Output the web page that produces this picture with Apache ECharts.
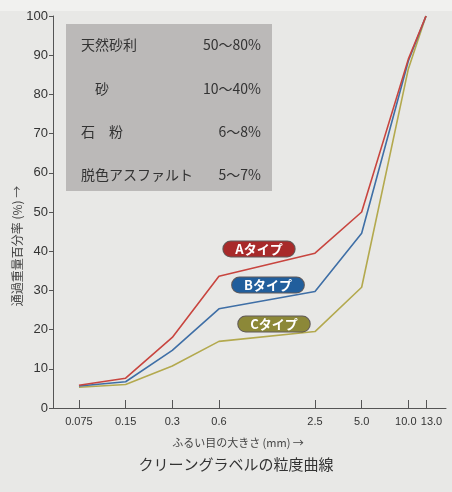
<!DOCTYPE html>
<html>
<head>
<meta charset="utf-8">
<script src="https://cdn.jsdelivr.net/npm/echarts@6/dist/echarts.min.js"></script>
<style>
html,body{margin:0;padding:0;background:#e8e8e6;}
#c{width:452px;height:492px;}
</style>
</head>
<body>
<div id="c"></div>
<script>
// sieve sizes (mm) and tick labels
const sieveSizes = [0.075, 0.15, 0.3, 0.6, 2.5, 5.0, 10.0, 13.0];
const sieveLabels = ['0.075', '0.15', '0.3', '0.6', '2.5', '5.0', '10.0', '13.0'];
const yTicks = [0, 10, 20, 30, 40, 50, 60, 70, 80, 90, 100];
// percent passing
const typeA = [5.8, 7.6, 18.0, 33.6, 39.5, 50.0, 89.0, 100];
const typeB = [5.6, 6.7, 14.7, 25.3, 29.7, 44.6, 88.5, 100];
const typeC = [5.3, 6.0, 10.7, 17.0, 19.5, 30.8, 86.5, 100];
const seriesNames = ['Aタイプ', 'Bタイプ', 'Cタイプ'];
const legendRows = [
  ['天然砂利', '50〜80%'],
  ['　砂', '10〜40%'],
  ['石　粉', '6〜8%'],
  ['脱色アスファルト', '5〜7%']
];
const xAxisTitle = 'ふるい目の大きさ (mm) →';
const yAxisTitle = '通過重量百分率 (%) →';
const chartTitle = 'クリーングラベルの粒度曲線';

const FONT = '"Noto Sans CJK JP", "Noto Sans", sans-serif';
const NUMFONT = '"Liberation Sans", "Noto Sans", sans-serif';
const chart = echarts.init(document.getElementById('c'));
const toPairs = arr => sieveSizes.map((s, i) => [s, arr[i]]);
const colors = ['#c8453f', '#3f6fa6', '#b3a94e'];
const pillColors = ['#a82a2a', '#215e9c', '#8c8838'];

const graphics = [
  {type: 'rect', shape: {x: 0, y: 0, width: 452, height: 11}, style: {fill: '#f1f1ef'}, z: 0},
  {type: 'rect', shape: {x: 66, y: 24, width: 206, height: 167}, style: {fill: '#bbb9b8'}, z: 1},
];
const rowY = [45, 89, 132, 175];
legendRows.forEach((r, i) => {
  graphics.push({type: 'text', x: 81, y: rowY[i], z: 2,
    style: {text: r[0], font: '14px ' + FONT, fill: '#333', verticalAlign: 'middle', align: 'left'}});
  graphics.push({type: 'text', x: 261, y: rowY[i], z: 2,
    style: {text: r[1], font: '14px ' + FONT, fill: '#333', verticalAlign: 'middle', align: 'right'}});
});
const pillPos = [[259, 249], [268, 285], [274, 324]];
seriesNames.forEach((n, i) => {
  graphics.push({type: 'text', x: pillPos[i][0], y: pillPos[i][1], z: 5,
    style: {text: n, font: 'bold 13px ' + FONT, fill: '#fff', align: 'center', verticalAlign: 'middle',
      backgroundColor: pillColors[i], borderRadius: 9, padding: [1, 12, 1, 12],
      borderColor: 'rgba(40,30,30,0.7)', borderWidth: 1}});
});
graphics.push({type: 'text', x: 17, y: 246, rotation: Math.PI / 2, z: 2,
  style: {text: yAxisTitle, font: '12px ' + FONT, fill: '#444', align: 'center', verticalAlign: 'middle'}});
graphics.push({type: 'text', x: 238, y: 443, z: 2,
  style: {text: xAxisTitle, font: '11px ' + FONT, fill: '#444', align: 'center', verticalAlign: 'middle'}});
graphics.push({type: 'text', x: 236, y: 464, z: 2,
  style: {text: chartTitle, font: '15px ' + FONT, fill: '#333', align: 'center', verticalAlign: 'middle'}});

const labelFor = v => {
  for (let i = 0; i < sieveSizes.length; i++) {
    if (Math.abs(sieveSizes[i] - v) < 1e-6 * Math.max(1, v)) {
      if (i === sieveSizes.length - 1) return '{r|' + sieveLabels[i] + '}';
      if (i === sieveSizes.length - 2) return '{l|' + sieveLabels[i] + '}';
      return sieveLabels[i];
    }
  }
  return '';
};

chart.setOption({
  backgroundColor: '#e8e8e6',
  animation: false,
  grid: {left: 53, right: 6, top: 16, bottom: 84, outerBoundsMode: 'none'},
  xAxis: {
    type: 'log', logBase: 10, min: 0.051, max: 17.5,
    axisLine: {lineStyle: {color: '#555', width: 1}},
    axisTick: {show: true, inside: true, length: 8, customValues: sieveSizes, lineStyle: {color: '#555'}},
    axisLabel: {customValues: sieveSizes, formatter: v => labelFor(v), color: '#333', fontSize: 11,
      fontFamily: NUMFONT, margin: 8, hideOverlap: false, showMinLabel: true, showMaxLabel: true,
      rich: {
        r: {fontSize: 11, fontFamily: NUMFONT, color: '#333', padding: [0, 0, 0, 11]},
        l: {fontSize: 11, fontFamily: NUMFONT, color: '#333', padding: [0, 5, 0, 0]}
      }},
    splitLine: {show: false},
    minorTick: {show: false}
  },
  yAxis: {
    type: 'value', min: 0, max: 100, interval: 10,
    axisLine: {show: true, lineStyle: {color: '#555', width: 1}},
    axisTick: {show: true, inside: false, length: 4, lineStyle: {color: '#555'}},
    axisLabel: {color: '#333', fontSize: 13, fontFamily: NUMFONT, margin: 5,
      formatter: v => yTicks.includes(v) ? String(v) : ''},
    splitLine: {show: false}
  },
  series: [typeC, typeB, typeA].map((d, k) => {
    const i = 2 - k;
    return {type: 'line', name: seriesNames[i], data: toPairs(d), showSymbol: false, symbol: 'none',
      lineStyle: {color: colors[i], width: 1.6}, z: 3};
  }),
  graphic: graphics
});
</script>
</body>
</html>
